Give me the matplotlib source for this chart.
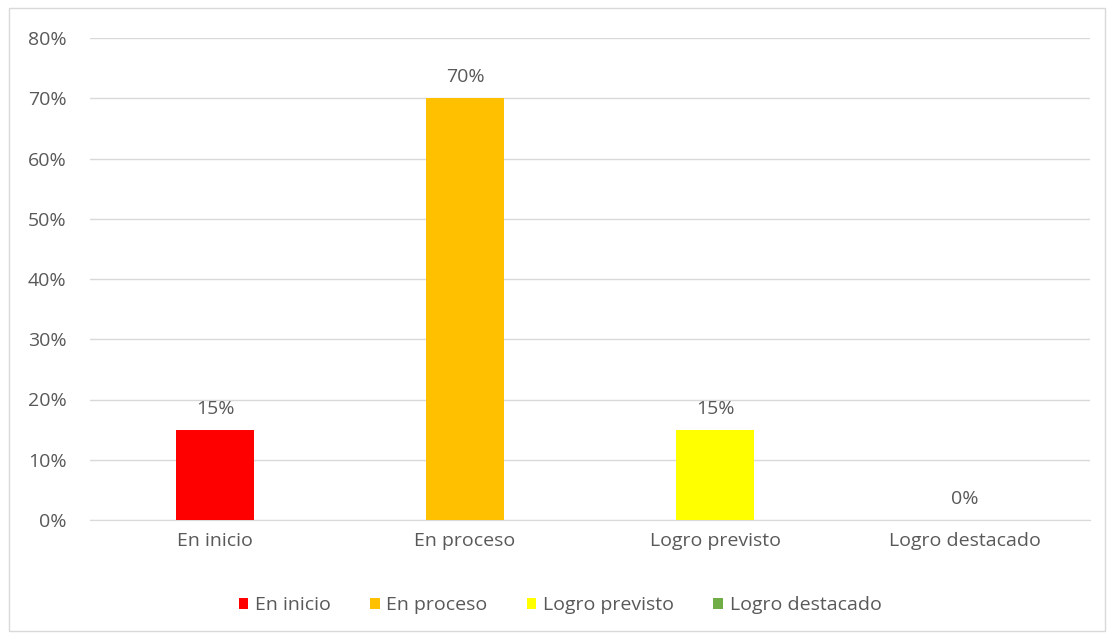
import matplotlib
matplotlib.use("Agg")
import matplotlib.pyplot as plt
from matplotlib.patches import Rectangle, Patch
from matplotlib.ticker import FuncFormatter, MultipleLocator

categories = ["En inicio", "En proceso", "Logro previsto", "Logro destacado"]
values = [15, 70, 15, 0]
colors = ["#FF0000", "#FFC000", "#FFFF00", "#70AD47"]

plt.rcParams['font.family'] = ['Open Sans', 'DejaVu Sans']
TXT = "#595959"
FS = 14

fig = plt.figure(figsize=(11.13, 6.36), dpi=100)
fig.patches.append(Rectangle((9/1113, 1-631/636), (1105-9)/1113, (631-8)/636,
                             transform=fig.transFigure, fill=False,
                             edgecolor="#D9D9D9", linewidth=1.0))
ax = fig.add_axes([90/1113, 1-520/636, 1000/1113, (520-38)/636])

x = list(range(len(categories)))
bars = ax.bar(x, values, width=0.31, color=colors, zorder=3)
for xi, v in zip(x, values):
    ax.text(xi, v + 2.0, f"{v}%", ha="center", va="bottom", fontsize=FS, color=TXT)

ax.set_xlim(-0.5, 3.5)
ax.set_ylim(0, 80)
ax.yaxis.set_major_locator(MultipleLocator(10))
ax.yaxis.set_major_formatter(FuncFormatter(lambda v, p: f"{int(v)}%"))
ax.grid(axis="y", color="#D9D9D9", linewidth=1.0, zorder=0)
for s in ["top", "right", "left"]:
    ax.spines[s].set_visible(False)
ax.spines["bottom"].set_color("#D9D9D9")
ax.tick_params(axis="both", length=0, labelsize=FS, labelcolor=TXT)
ax.tick_params(axis="y", pad=17)
ax.tick_params(axis="x", pad=9)
ax.set_xticks(x)
ax.set_xticklabels(categories)

handles = [Patch(facecolor=c, label=l) for c, l in zip(colors, categories)]
fig.legend(handles=handles, loc="center", bbox_to_anchor=(560/1113, 1-605/636),
           ncol=4, frameon=False, fontsize=FS, labelcolor=TXT,
           handlelength=0.5, handleheight=0.5, handletextpad=0.35, columnspacing=2.0)

fig.savefig("out.png", dpi=100)
